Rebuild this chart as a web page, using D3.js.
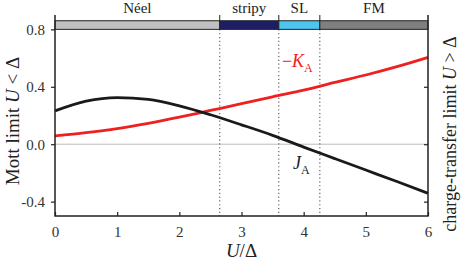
<!DOCTYPE html>
<html>
<head>
<meta charset="utf-8">
<script src="https://cdn.jsdelivr.net/npm/d3@7"></script>
<style>
  body { margin: 0; background: #fff; }
  svg text { font-family: 'Liberation Serif', 'Times New Roman', serif !important; }
</style>
</head>
<body>
<svg id="chart" width="463" height="263"></svg>
<script>
// U/Δ sample points
const uValues = [0, 0.5, 1.0, 1.5, 2.0, 2.5, 3.0, 3.5, 4.0, 4.5, 5.0, 5.5, 6.0];
// J_A (black)
const jA = [0.232, 0.300, 0.325, 0.312, 0.267, 0.205, 0.135, 0.062, -0.020, -0.100, -0.180, -0.260, -0.342];
// -K_A (red)
const minusKA = [0.058, 0.080, 0.108, 0.145, 0.188, 0.235, 0.282, 0.330, 0.376, 0.430, 0.482, 0.540, 0.605];

// phase regions along U/Δ
const phaseNames = ['Néel', 'stripy', 'SL', 'FM'];
const phaseStart = [0, 2.65, 3.60, 4.26];
const phaseEnd = [2.65, 3.60, 4.26, 6];
const phaseColors = ['#c0c0c0', '#1c1f66', '#4cc6ec', '#7f7f7f'];

const xTicks = [0, 1, 2, 3, 4, 5, 6];
const yTicks = [-0.4, 0.0, 0.4, 0.8];

const margin = { top: 15, right: 35, bottom: 47, left: 55 };
const W = 463, H = 263;
const width = W - margin.left - margin.right;
const height = H - margin.top - margin.bottom;

const svg = d3.select('#chart');
const g = svg.append('g').attr('transform', `translate(${margin.left},${margin.top})`);

const x = d3.scaleLinear().domain([0, 6]).range([0, width]);
const y = d3.scaleLinear().domain([-0.5, 0.9]).range([height, 0]);

// zero line
g.append('line')
  .attr('x1', 0).attr('x2', width)
  .attr('y1', y(0)).attr('y2', y(0))
  .attr('stroke', '#bbb').attr('stroke-width', 1);

// dotted phase boundaries
g.selectAll('line.bound')
  .data(phaseStart.slice(1))
  .enter().append('line')
  .attr('class', 'bound')
  .attr('x1', d => x(d)).attr('x2', d => x(d))
  .attr('y1', y(0.8)).attr('y2', height)
  .attr('stroke', '#555').attr('stroke-width', 1.1)
  .attr('stroke-dasharray', '1.2,2.6');

// phase band
const bandTop = 0.86;
g.selectAll('rect.phase')
  .data(phaseNames)
  .enter().append('rect')
  .attr('class', 'phase')
  .attr('x', (d, i) => x(phaseStart[i]))
  .attr('width', (d, i) => x(phaseEnd[i]) - x(phaseStart[i]))
  .attr('y', y(bandTop))
  .attr('height', y(0.8) - y(bandTop))
  .attr('fill', (d, i) => phaseColors[i])
  .attr('stroke', '#222').attr('stroke-width', 1);

// small ticks above band at boundaries
g.selectAll('line.btick')
  .data(phaseStart.slice(1))
  .enter().append('line')
  .attr('x1', d => x(d)).attr('x2', d => x(d))
  .attr('y1', 0).attr('y2', y(bandTop))
  .attr('stroke', '#222').attr('stroke-width', 1);

g.selectAll('text.phase')
  .data(phaseNames)
  .enter().append('text')
  .attr('x', (d, i) => x((phaseStart[i] + phaseEnd[i]) / 2))
  .attr('y', -2)
  .attr('text-anchor', 'middle')
  .attr('font-size', 15)
  .attr('fill', '#222')
  .text(d => d);

// curves
const line = d3.line()
  .x((d, i) => x(uValues[i]))
  .y(d => y(d))
  .curve(d3.curveMonotoneX);

g.append('path').datum(minusKA)
  .attr('fill', 'none').attr('stroke', '#ee2020').attr('stroke-width', 2.8)
  .attr('d', line);

g.append('path').datum(jA)
  .attr('fill', 'none').attr('stroke', '#1a1a1a').attr('stroke-width', 2.8)
  .attr('d', line);

// axes
const axisStyle = sel => {
  sel.select('.domain').remove();
  sel.selectAll('line').attr('stroke', '#222').attr('stroke-width', 1.2);
  sel.selectAll('text').attr('font-size', 15).attr('fill', '#333');
};

g.append('g')
  .attr('transform', `translate(0,${height})`)
  .call(d3.axisBottom(x).tickValues(xTicks).tickSize(-4).tickPadding(10).tickFormat(d3.format('d')))
  .call(axisStyle);

g.append('g')
  .call(d3.axisLeft(y).tickValues(yTicks).tickSize(4).tickPadding(6)
    .tickFormat(d => d3.format('.1f')(d).replace('−', '-')))
  .call(axisStyle);

g.append('g')
  .attr('transform', `translate(${width},0)`)
  .call(d3.axisRight(y).tickValues(yTicks.slice(0, 3)).tickSize(-4).tickFormat(''))
  .call(axisStyle);

// frame lines (left, right, bottom)
g.append('path')
  .attr('d', `M0,0V${height}H${width}V0`)
  .attr('fill', 'none').attr('stroke', '#222').attr('stroke-width', 1.5);

// curve labels
const kLabel = g.append('text')
  .attr('x', x(3.65)).attr('y', y(0.535))
  .attr('fill', '#ee2020').attr('font-size', 18);
kLabel.append('tspan').text('−');
kLabel.append('tspan').attr('font-style', 'italic').text('K');
kLabel.append('tspan').attr('font-size', 12).attr('dy', 5).text('A');

const jLabel = g.append('text')
  .attr('x', x(3.83)).attr('y', y(-0.175))
  .attr('fill', '#222').attr('font-size', 18);
jLabel.append('tspan').attr('font-style', 'italic').text('J');
jLabel.append('tspan').attr('font-size', 12).attr('dy', 5).text('A');

// axis titles
const xt = svg.append('text')
  .attr('x', margin.left + x(3)).attr('y', 257)
  .attr('text-anchor', 'middle').attr('font-size', 19).attr('fill', '#222');
xt.append('tspan').attr('font-style', 'italic').text('U');
xt.append('tspan').text('/Δ');

const yl = svg.append('text')
  .attr('transform', 'translate(19,121) rotate(-90)')
  .attr('text-anchor', 'middle').attr('font-size', 19).attr('fill', '#222');
yl.append('tspan').text('Mott limit ');
yl.append('tspan').attr('font-style', 'italic').text('U');
yl.append('tspan').text(' < Δ');

const yr = svg.append('text')
  .attr('transform', 'translate(456,134) rotate(-90)')
  .attr('text-anchor', 'middle').attr('font-size', 18).attr('fill', '#222');
yr.append('tspan').text('charge-transfer limit ');
yr.append('tspan').attr('font-style', 'italic').text('U');
yr.append('tspan').text(' > Δ');
</script>
</body>
</html>
